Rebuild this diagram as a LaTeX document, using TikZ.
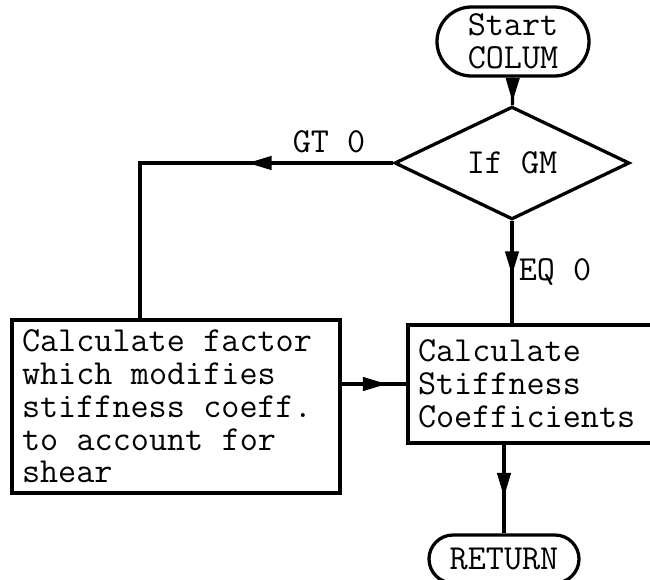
\documentclass[tikz,border=0pt]{standalone}
\usetikzlibrary{shapes.geometric,shapes.misc,arrows.meta,decorations.markings}

\newcommand{\flowfont}{\ttfamily\fontsize{30}{28}\selectfont}
\newcommand{\monospace}{\spaceskip=0.525em\relax\xspaceskip=0.525em\relax}

\tikzset{
  terminal/.style={draw, rounded rectangle, line width=2.8pt, font=\flowfont, align=center, inner sep=0pt},
  decision/.style={draw, diamond, line width=2.8pt, font=\flowfont, inner sep=0pt},
  procbox/.style={draw, line width=2.8pt, font=\flowfont, align=left, inner xsep=0.3cm, inner ysep=0pt,
    execute at begin node=\monospace},
  tag/.style={font=\flowfont, inner sep=0pt},
  flow/.style={line width=2.8pt, postaction={decorate},
    decoration={markings, mark=at position #1 with {\arrow{Triangle[length=0.72cm,width=0.4cm]}}}}
}

\begin{document}
\begin{tikzpicture}
\useasboundingbox (0,0) rectangle (19.5,-17.4);

\node[terminal, minimum width=4.56cm, minimum height=2.07cm] (start) at (15.39,-1.245) {Start\\COLUM};
\node[decision, minimum width=7.05cm, minimum height=2.91cm] (ifgm) at (15.36,-4.89) {If GM};
\node[procbox, text width=9.24cm, minimum height=5.19cm] (factor) at (5.28,-12.195)
  {Calculate factor\\which modifies\\stiffness coeff.\\to account for\\shear};
\node[procbox, text width=7.02cm, minimum height=3.54cm] (stiff) at (16.05,-11.52)
  {Calculate\\Stiffness\\Coefficients};
\node[terminal, minimum width=4.5cm, minimum height=1.44cm] (ret) at (15.12,-16.77) {RETURN};

\coordinate (bend) at (4.2,-4.89);

% connectors
\draw[flow=0.88] (start) -- (ifgm);
\draw[flow=0.356] (ifgm.west) -- (bend) -- (bend |- factor.north);
\draw[flow=0.53] (ifgm.south) -- (ifgm.south |- stiff.north);
\draw[flow=0.7] (factor.east |- stiff.west) -- (stiff.west);
\draw[flow=0.59] (ret.north |- stiff.south) -- (ret.north);

% branch labels
\node[tag] (gt) at (9.87,-4.26) {GT 0};
\node[tag] (eq) at (16.65,-8.16) {EQ 0};
\end{tikzpicture}
\end{document}
